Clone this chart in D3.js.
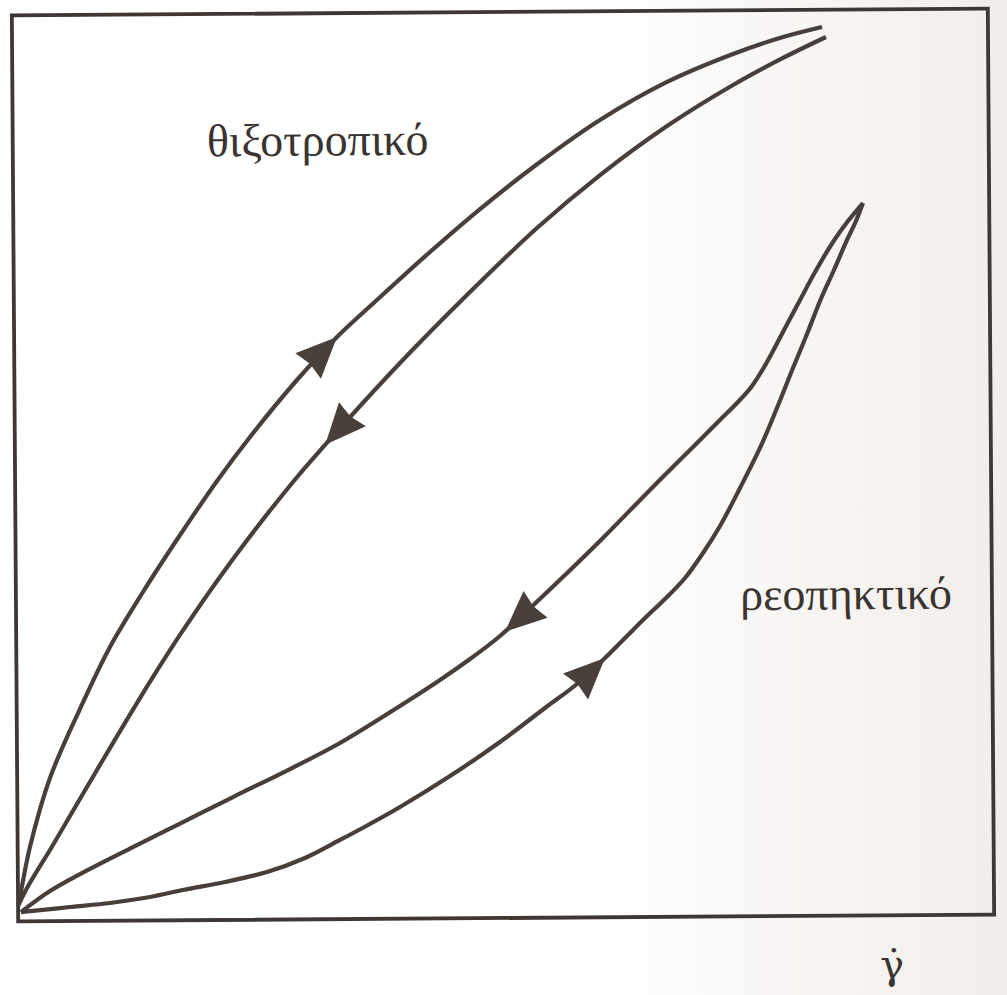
<!DOCTYPE html>
<html>
<head>
<meta charset="utf-8">
<script src="https://cdn.jsdelivr.net/npm/d3@7"></script>
<style>
  html, body { margin: 0; padding: 0; background: #ffffff; }
  svg { display: block; }
</style>
</head>
<body>
<svg id="chart" width="1007" height="995"></svg>
<script>
// Hysteresis loops of shear stress against shear rate (arbitrary units, 0–100).

// Thixotropic loop: up-curve (increasing shear rate) and down-curve (decreasing)
const thixoUpRate   = [0, 0.2, 1.26, 3.36, 6.48, 9.6, 13.02, 16.86, 20.69, 24.1, 28.95, 33.08, 37.2, 42.67, 47.83, 54.01, 60.18, 67.08, 73.86, 79.0, 83.0];
const thixoUpStress = [1.7, 2.69, 8.2, 15.8, 23.39, 30.22, 36.26, 42.52, 48.46, 53.29, 59.54, 64.26, 68.31, 73.57, 78.27, 83.41, 88.0, 92.15, 95.19, 97.02, 98.1];

const thixoDownRate   = [83.4, 78.98, 73.84, 67.05, 60.15, 53.65, 46.43, 39.52, 31.78, 28.47, 22.27, 16.78, 12.64, 8.18, 3.62, 0.93, 0];
const thixoDownStress = [96.99, 94.71, 91.77, 87.29, 81.93, 76.13, 68.79, 61.34, 52.35, 48.29, 39.83, 31.49, 24.56, 16.65, 8.41, 3.68, 1.7];

// Rheopectic loop
const rheoUpRate   = [0.29, 1.52, 5.32, 9.42, 13.52, 16.91, 21.22, 25.53, 29.43, 33.03, 36.11, 39.2, 44.35, 49.49, 54.13, 57.42, 60.31, 62.58, 64.44, 66.5, 68.57, 70.43, 72.19, 74.27, 76.34, 78.11, 79.78, 81.24, 82.6, 84.05, 85.41, 86.34, 87.07];
const rheoUpStress = [1.03, 1.14, 1.55, 1.96, 2.59, 3.34, 4.19, 5.26, 6.78, 8.74, 10.48, 12.33, 15.71, 19.43, 23.15, 25.77, 28.62, 31.03, 33.0, 35.09, 37.39, 40.13, 43.1, 47.28, 51.68, 56.08, 60.48, 64.22, 67.86, 71.27, 74.57, 76.66, 78.64];

const rheoDownRate   = [87.07, 85.52, 83.97, 82.11, 80.55, 78.78, 77.12, 75.57, 74.12, 72.26, 69.69, 65.04, 59.88, 54.0, 49.57, 46.48, 43.39, 39.27, 33.1, 27.96, 22.1, 16.96, 11.81, 6.37, 3.28, 0.29];
const rheoDownStress = [78.64, 76.66, 74.36, 71.06, 67.98, 64.46, 61.16, 58.53, 56.77, 54.8, 52.06, 47.13, 41.54, 35.51, 31.13, 28.61, 26.32, 23.48, 19.44, 16.61, 13.56, 10.84, 8.12, 5.18, 3.33, 1.03];

// Direction arrows: which curve, and the shear rate at the arrow tip
const arrowCurves = ["thixoUp", "thixoDown", "rheoDown", "rheoUp"];
const arrowRates  = [33.08, 31.78, 50.08, 60.31];

// Labels
const labelTexts  = ["θιξοτροπικό", "ρεοπηκτικό"];
const labelRates  = [19.9, 74.2];
const labelStress = [84.3, 33.8];
const axisLabel   = "γ̇";
const axisLabelRate = 89.5, axisLabelStress = -7.0;

const ink = "#483f3a";

const svg = d3.select("#chart");

// Faint paper tone toward the right edge
const defs = svg.append("defs");
const grad = defs.append("linearGradient").attr("id", "paper")
  .attr("x1", "0").attr("x2", "1").attr("y1", "0").attr("y2", "0");
grad.append("stop").attr("offset", "0.6").attr("stop-color", "#ffffff");
grad.append("stop").attr("offset", "0.82").attr("stop-color", "#f7f4f2");
grad.append("stop").attr("offset", "1").attr("stop-color", "#f1edea");
svg.append("rect").attr("width", 1007).attr("height", 995).attr("fill", "url(#paper)");

const x = d3.scaleLinear().domain([0, 100]).range([15, 991]);
const y = d3.scaleLinear().domain([0, 100]).range([918, 12]);

const g = svg.append("g").attr("transform", "rotate(-0.4, 503, 465)");

// Frame
g.append("rect")
  .attr("x", x(0)).attr("y", y(100))
  .attr("width", x(100) - x(0)).attr("height", y(0) - y(100))
  .attr("fill", "none").attr("stroke", "#3e3734").attr("stroke-width", 3.8);

const zip = (a, b) => a.map((v, i) => [v, b[i]]);
const curves = {
  thixoUp:   zip(thixoUpRate, thixoUpStress),
  thixoDown: zip(thixoDownRate, thixoDownStress),
  rheoUp:    zip(rheoUpRate, rheoUpStress),
  rheoDown:  zip(rheoDownRate, rheoDownStress)
};

const line = d3.line()
  .x(d => x(d[0])).y(d => y(d[1]))
  .curve(d3.curveCatmullRom.alpha(0.5));

const paths = {};
Object.keys(curves).forEach(k => {
  paths[k] = g.append("path")
    .attr("d", line(curves[k]))
    .attr("fill", "none")
    .attr("stroke", ink)
    .attr("stroke-width", 4.2)
    .attr("stroke-linejoin", "round")
    .node();
});

// Arrowheads, oriented along the direction of travel of each curve
arrowCurves.forEach((k, i) => {
  const p = paths[k];
  const total = p.getTotalLength();
  const tx = x(arrowRates[i]);
  let best = 0, bestD = Infinity;
  for (let L = 0; L <= total; L += 0.5) {
    const pt = p.getPointAtLength(L);
    const d = Math.abs(pt.x - tx);
    if (d < bestD) { bestD = d; best = L; }
  }
  const tip = p.getPointAtLength(best);
  const back = p.getPointAtLength(Math.max(0, best - 6));
  let ux = tip.x - back.x, uy = tip.y - back.y;
  const n = Math.hypot(ux, uy); ux /= n; uy /= n;
  const len = 41, w = 18, notch = 3;
  const bx = tip.x - len * ux, by = tip.y - len * uy;
  const pts = [
    [tip.x, tip.y],
    [bx - w * uy, by + w * ux],
    [bx + notch * ux, by + notch * uy],
    [bx + w * uy, by - w * ux]
  ];
  g.append("path")
    .attr("d", "M" + pts.map(q => q.join(",")).join("L") + "Z")
    .attr("fill", "#4a403b");
});

// Curve labels
g.selectAll("text.curve-label")
  .data(labelTexts)
  .join("text")
  .attr("class", "curve-label")
  .attr("x", (d, i) => x(labelRates[i]))
  .attr("y", (d, i) => y(labelStress[i]))
  .attr("font-family", "'Liberation Serif', serif")
  .attr("font-size", 46)
  .attr("fill", "#3a3431")
  .text(d => d);

// Shear-rate symbol under the frame
g.append("text")
  .attr("x", x(axisLabelRate)).attr("y", y(axisLabelStress))
  .attr("text-anchor", "middle")
  .attr("font-family", "'DejaVu Serif', serif")
  .attr("font-size", 40)
  .attr("fill", "#3a3431")
  .text(axisLabel);
</script>
</body>
</html>
